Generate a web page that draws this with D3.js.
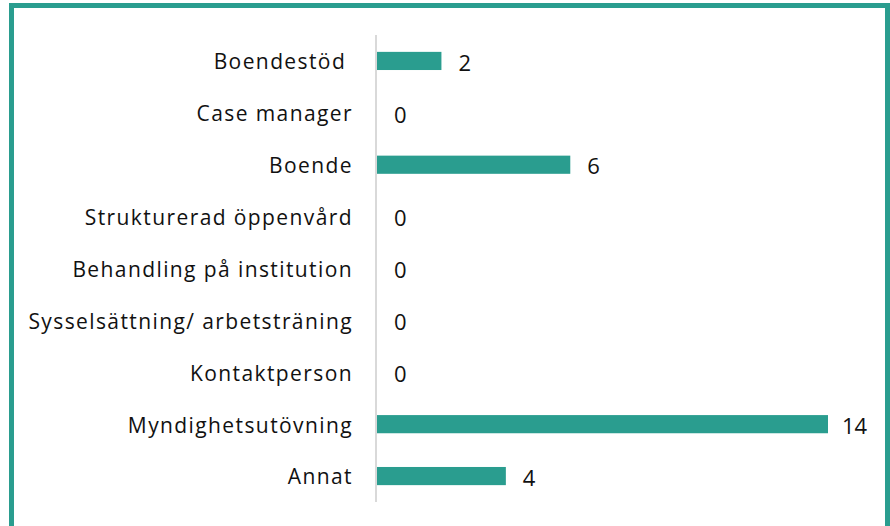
<!DOCTYPE html>
<html>
<head>
<meta charset="utf-8">
<title>Insatser</title>
<style>
  body { margin: 0; background: #fff; }
  text { font-family: "Open Sans", sans-serif; fill: #111; }
  .label { font-size: 21px; letter-spacing: 1.4px; white-space: pre; }
  .value { font-size: 22px; }
  .bar { fill: #2a9d8f; }
</style>
</head>
<body>
<script src="https://cdn.jsdelivr.net/npm/d3@7"></script>
<script>
var categories = ["Boendestöd ", "Case manager", "Boende", "Strukturerad öppenvård",
  "Behandling på institution", "Sysselsättning/ arbetsträning", "Kontaktperson",
  "Myndighetsutövning", "Annat"];
var values = [2, 0, 6, 0, 0, 0, 0, 14, 4];

var W = 890, H = 526;
var margin = {top: 35, left: 376, right: 62, bottom: 24};

var svg = d3.select("body").append("svg")
    .attr("width", W)
    .attr("height", H);

// frame
svg.append("rect")
    .attr("x", 11.5).attr("y", 5.5)
    .attr("width", W - 14).attr("height", H + 20)
    .attr("fill", "none")
    .attr("stroke", "#2a9d8f")
    .attr("stroke-width", 5);

var xScale = d3.scaleLinear()
    .domain([0, 14])
    .range([margin.left + 1, 828]);
var yScale = d3.scaleBand()
    .domain(categories)
    .range([margin.top, H - margin.bottom])
    .paddingInner(0.65)
    .paddingOuter(0.325);

var g = svg.append("g");

g.selectAll(".bar")
    .data(values)
  .enter().append("rect")
    .attr("class", "bar")
    .attr("x", xScale(0))
    .attr("y", function (d, i) { return yScale(categories[i]); })
    .attr("width", function (d) { return xScale(d) - xScale(0); })
    .attr("height", yScale.bandwidth());

// axis line
g.append("line")
    .attr("x1", margin.left).attr("x2", margin.left)
    .attr("y1", margin.top).attr("y2", H - margin.bottom)
    .attr("stroke", "#d9d9d9")
    .attr("stroke-width", 2);

g.selectAll(".label")
    .data(categories)
  .enter().append("text")
    .attr("class", "label")
    .attr("x", 353)
    .attr("y", function (d) { return yScale(d) + yScale.bandwidth() / 2 + 1; })
    .attr("dy", "0.35em")
    .attr("text-anchor", "end")
    .text(function (d) { return d; });

g.selectAll(".value")
    .data(values)
  .enter().append("text")
    .attr("class", "value")
    .attr("x", function (d) { return xScale(d) + (d > 9 ? 14 : 17); })
    .attr("y", function (d, i) { return yScale(categories[i]) + yScale.bandwidth() / 2 + 2; })
    .attr("dy", "0.35em")
    .text(function (d) { return d; });
</script>
</body>
</html>
